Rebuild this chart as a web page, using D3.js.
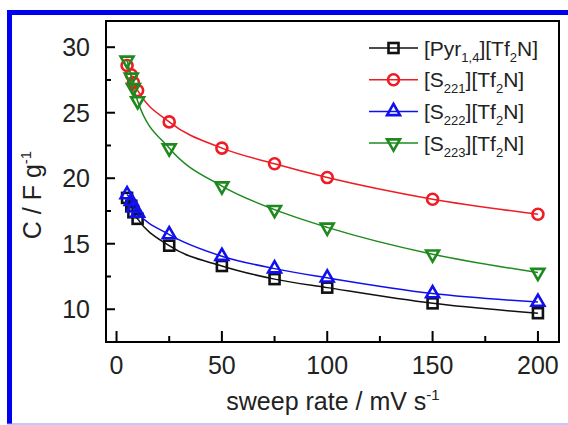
<!DOCTYPE html>
<html>
<head>
<meta charset="utf-8">
<script src="https://cdn.jsdelivr.net/npm/d3@7"></script>
<style>
    body { margin: 0; background: #fff; }
    svg { display: block; font-family: Arial, "Liberation Sans", sans-serif; }
</style>
</head>
<body>
<svg id="chart" width="568" height="425"></svg>
<script>
// sweep rates (mV/s)
var rates = [5, 7, 8, 10, 25, 50, 75, 100, 150, 200];

// capacitance (F/g) per electrolyte
var pyr14 = [18.5, 17.9, 17.4, 16.9, 14.85, 13.3, 12.3, 11.65, 10.45, 9.7];
var s221 = [28.6, 27.9, 27.3, 26.7, 24.3, 22.3, 21.1, 20.05, 18.4, 17.25];
var s222 = [18.75, 18.25, 17.75, 17.35, 15.7, 14.05, 13.1, 12.4, 11.2, 10.55];
var s223 = [29.0, 27.7, 26.9, 25.9, 22.3, 19.4, 17.6, 16.25, 14.2, 12.8];

var xTicks = [0, 50, 100, 150, 200];
var yTicks = [10, 15, 20, 25, 30];

var series = [
    { main: "[Pyr", sub: "1,4", values: pyr14, color: "#111111", shape: "square" },
    { main: "[S", sub: "221", values: s221, color: "#ee1c24", shape: "circle" },
    { main: "[S", sub: "222", values: s222, color: "#1010ee", shape: "up" },
    { main: "[S", sub: "223", values: s223, color: "#1e8a1e", shape: "down" },
];

var cfg = { left: 106, right: 559, top: 21, bottom: 342 };

var svg = d3.select("#chart");

// outer blue frame
svg.append("rect").attr("x", 7).attr("y", 10).attr("width", 570).attr("height", 5).attr("fill", "#0000f0");
svg.append("rect").attr("x", 7).attr("y", 10).attr("width", 5).attr("height", 414).attr("fill", "#0000f0");
svg.append("line").attr("x1", 7).attr("x2", 568).attr("y1", 424).attr("y2", 424)
    .attr("stroke", "#8c8cff").attr("stroke-width", 1.2);

var x = d3.scaleLinear().domain([-5, 210]).range([cfg.left, cfg.right]);
var y = d3.scaleLinear().domain([7.5, 32]).range([cfg.bottom, cfg.top]);

// axes, ticks pointing inward
var xMinor = d3.range(25, 200, 50);
var yMinor = d3.range(12.5, 30, 5);

var gx = svg.append("g").attr("transform", "translate(0," + cfg.bottom + ")");
gx.selectAll("line.major").data(xTicks).join("line")
    .attr("x1", d => x(d)).attr("x2", d => x(d)).attr("y1", 0).attr("y2", -11)
    .attr("stroke", "#000").attr("stroke-width", 2);
gx.selectAll("line.minor").data(xMinor).join("line")
    .attr("x1", d => x(d)).attr("x2", d => x(d)).attr("y1", 0).attr("y2", -6)
    .attr("stroke", "#000").attr("stroke-width", 2);
gx.selectAll("text").data(xTicks).join("text")
    .attr("x", d => x(d)).attr("y", 32).attr("text-anchor", "middle")
    .attr("font-size", 25).attr("fill", "#222").text(d => d);

var gy = svg.append("g").attr("transform", "translate(" + cfg.left + ",0)");
gy.selectAll("line.major").data(yTicks).join("line")
    .attr("x1", 0).attr("x2", 9).attr("y1", d => y(d)).attr("y2", d => y(d))
    .attr("stroke", "#000").attr("stroke-width", 2);
gy.selectAll("line.minor").data(yMinor).join("line")
    .attr("x1", 0).attr("x2", 5).attr("y1", d => y(d)).attr("y2", d => y(d))
    .attr("stroke", "#000").attr("stroke-width", 2);
gy.selectAll("text").data(yTicks).join("text")
    .attr("x", -16).attr("y", d => y(d) + 9).attr("text-anchor", "end")
    .attr("font-size", 25).attr("fill", "#222").text(d => d);

// plot frame
svg.append("rect")
    .attr("x", cfg.left).attr("y", cfg.top)
    .attr("width", cfg.right - cfg.left).attr("height", cfg.bottom - cfg.top)
    .attr("fill", "none").attr("stroke", "#000").attr("stroke-width", 2);

// axis titles
var xt = svg.append("text").attr("x", 333).attr("y", 410).attr("text-anchor", "middle")
    .attr("font-size", 25).attr("fill", "#222");
xt.append("tspan").text("sweep rate / mV s");
xt.append("tspan").attr("dy", -10).attr("font-size", 15).text("-1");

var yt = svg.append("text").attr("transform", "translate(41,195) rotate(-90)")
    .attr("text-anchor", "middle").attr("font-size", 25).attr("fill", "#222");
yt.append("tspan").text("C / F g");
yt.append("tspan").attr("dy", -10).attr("font-size", 15).text("-1");

function marker(g, shape, color, cx, cy) {
    if (shape == "circle") {
        g.append("circle").attr("cx", cx).attr("cy", cy).attr("r", 5.5)
            .attr("fill", "none").attr("stroke", color).attr("stroke-width", 2.6);
    } else if (shape == "square") {
        g.append("rect").attr("x", cx - 5).attr("y", cy - 5).attr("width", 10).attr("height", 10)
            .attr("fill", "none").attr("stroke", color).attr("stroke-width", 2.6);
    } else {
        var rot = shape == "down" ? 180 : 0;
        g.append("path")
            .attr("d", d3.symbol().type(d3.symbolTriangle).size(72)())
            .attr("transform", "translate(" + cx + "," + cy + ") rotate(" + rot + ")")
            .attr("fill", "none").attr("stroke", color).attr("stroke-width", 2.6)
            .attr("stroke-linejoin", "miter");
    }
}

var line = d3.line()
    .x(d => x(d[0]))
    .y(d => y(d[1]))
    .curve(d3.curveMonotoneX);

var plot = svg.append("g");
for (let s of series) {
    var pts = rates.map((r, i) => [r, s.values[i]]);
    plot.append("path").datum(pts).attr("d", line)
        .attr("fill", "none").attr("stroke", s.color).attr("stroke-width", 1.5);
    for (let p of pts) marker(plot, s.shape, s.color, x(p[0]), y(p[1]));
}

// legend
var legend = svg.append("g");
series.forEach(function (s, i) {
    var ly = 48 + i * 31.7;
    legend.append("line").attr("x1", 369).attr("x2", 418).attr("y1", ly).attr("y2", ly)
        .attr("stroke", s.color).attr("stroke-width", 1.5);
    marker(legend, s.shape, s.color, 393.5, ly);
    var t = legend.append("text").attr("x", 424).attr("y", ly + 7.5)
        .attr("font-size", 21).attr("fill", "#222");
    t.append("tspan").text(s.main);
    t.append("tspan").attr("dy", 6).attr("font-size", 13).text(s.sub);
    t.append("tspan").attr("dy", -6).text("][Tf");
    t.append("tspan").attr("dy", 6).attr("font-size", 13).text("2");
    t.append("tspan").attr("dy", -6).text("N]");
});
</script>
</body>
</html>
